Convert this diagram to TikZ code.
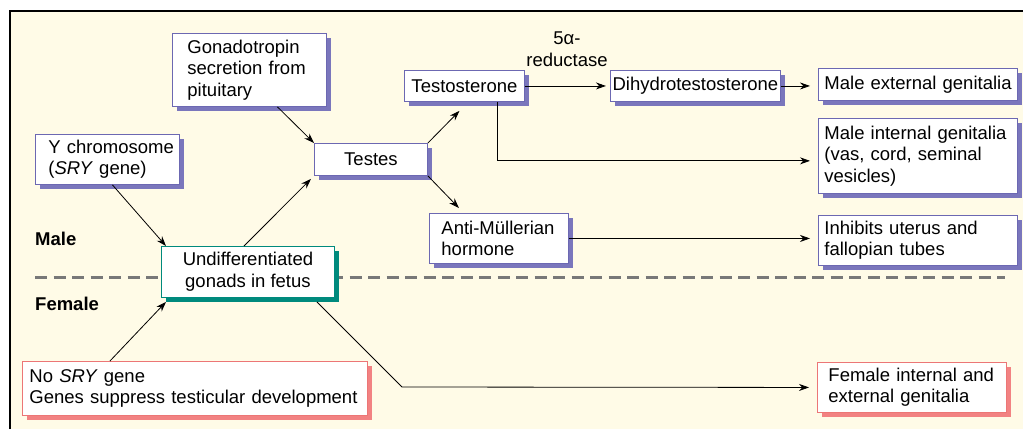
\documentclass[tikz,border=0pt]{standalone}
\usepackage{fontspec}
\setmainfont{Liberation Sans}
\definecolor{PaperCream}{RGB}{255,251,231}
\definecolor{BoxPurple}{RGB}{108,104,178}
\definecolor{ShadePurple}{RGB}{122,118,188}
\definecolor{GonadTeal}{RGB}{0,138,125}
\definecolor{FemPink}{RGB}{236,118,118}
\definecolor{ShadePink}{RGB}{242,130,130}
\definecolor{SplitGrey}{RGB}{120,120,120}
\usetikzlibrary{positioning,arrows.meta,shadows}
\hyphenpenalty=10000
\exhyphenpenalty=10000
\hbadness=10000
\hfuzz=20pt

\begin{document}
\begin{tikzpicture}[x=1pt, y=-1pt,
      every node/.style={font={\fontsize{18.5}{21.5}\selectfont}, inner sep=0pt},
      box/.style       ={draw=BoxPurple, fill=white, line width=0.9pt, anchor=north west, align=left,
                         drop shadow={shadow xshift=5pt, shadow yshift=-4.5pt, fill=ShadePurple, opacity=1}},
      cbox/.style      ={box, align=center},
      fem/.style       ={box, draw=FemPink, drop shadow={shadow xshift=5pt, shadow yshift=-4.5pt, fill=ShadePink, opacity=1}},
      gon/.style       ={cbox, draw=GonadTeal, drop shadow={shadow xshift=5pt, shadow yshift=-4.5pt, fill=GonadTeal, opacity=1}},
      sexlbl/.style    ={anchor=west, font={\fontsize{18.5}{21.5}\selectfont\bfseries}},
      arr/.style       ={-{Stealth[length=10pt,width=7pt]}, line width=0.8pt},
      arrgap/.style    ={arr, shorten >=8pt},
  ]
  \useasboundingbox (0,0) rectangle (1023,429);
  % ─ Panel ─
  \fill[PaperCream] (10,11) rectangle (1023,429);
  \draw[line width=1.2pt] (10,429) |- (1023,11);
  \draw[SplitGrey, line width=3pt, dash pattern=on 12pt off 6.5pt] (35,277) -- (1005,277);

  % ─ Male / Female ─
  \node[sexlbl] (male)   at (35,239) {Male};
  \node[sexlbl] (female) at (35,304) {Female};

  % ─ Sources (left) ─
  \node[box, text width=124pt, inner xsep=15pt, minimum height=73pt] (gonad)  at (172,33) {Gonadotropin\\secretion from\\pituitary};
  \node[box, text width=118pt, inner xsep=13pt, minimum height=50pt] (ychrom) at (35,134) {Y~chromosome\\(\textit{SRY} gene)};
  \node[gon, minimum width=173pt, minimum height=51pt]               (undiff) at (161,246) {Undifferentiated\\gonads in fetus};
  \node[fem, text width=331pt, inner xsep=7pt, minimum height=54pt]  (nosry)  at (22,361) {No \textit{SRY} gene\\Genes~suppress~testicular~development};

  % ─ Testes and hormones ─
  \node[cbox, minimum width=113pt, minimum height=32pt]              (testes) at (314,143) {Testes};
  \node[cbox, minimum width=120pt, minimum height=31pt]              (testo)  at (404,70)  {Testosterone};
  \node[cbox, minimum width=170pt, minimum height=31pt, right=85pt of testo] (dht) {Dihydrotestosterone};
  \node[box, text width=115pt, inner xsep=12pt, minimum height=50pt] (amh)    at (429,213) {Anti-Müllerian\\hormone};
  \node[align=center] (redlbl) at (567,49) {5α-\\reductase};

  % ─ Outcomes (right) ─
  \node[box, text width=187pt, inner xsep=6pt, minimum height=32pt]  (mext)   at (818,68) {Male~external~genitalia};
  \node[box, text width=187pt, inner xsep=6pt, minimum height=75pt, below=17pt of mext] (mint) {Male~internal~genitalia\\(vas, cord, seminal\\vesicles)};
  \node[box, text width=187pt, inner xsep=6pt, minimum height=50pt, below=21pt of mint] (inhib) {Inhibits uterus and\\fallopian tubes};
  \node[fem, text width=167pt, inner xsep=11pt, minimum height=50pt] (femgen) at (817,362) {Female~internal~and\\external genitalia};
  \coordinate (fbend) at (402,387);

  % ─ Arrows ─
  \draw[arr] ([xshift=28pt]gonad.south) -- (testes.north west);
  \draw[arr] ([xshift=5pt]ychrom.south) -- ([xshift=5pt]undiff.north west);
  \draw[arr] ([xshift=-4pt]undiff.north) -- ([xshift=-3pt,yshift=-3pt]testes.south west);
  \draw[arr] (testes.north east) -- ([xshift=-5pt,yshift=-9pt]testo.south);
  \draw[arr] (testes.south east) -- ([xshift=-40pt,yshift=5pt]amh.north);
  \draw[arr, shorten >=4pt] (testo) -- (dht);
  \draw[arrgap] (dht.east) -- (dht.east -| mext.west);
  \draw[arrgap] ([xshift=33pt]testo.south) |- ([yshift=-5pt]mint.west);
  \draw[arrgap] (amh.east) -- (amh.east -| inhib.west);
  \draw[arr] ([xshift=-85pt]nosry.north) -- ([xshift=5pt,yshift=-4pt]undiff.south west);
  \draw[arrgap] ([xshift=69pt,yshift=-4pt]undiff.south) -- (fbend) -- (femgen.west);
  \end{tikzpicture}
\end{document}
